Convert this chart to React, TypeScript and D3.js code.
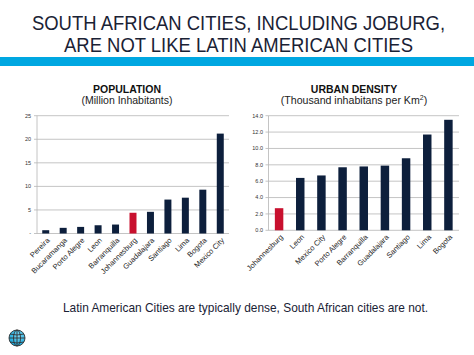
import React from "react";
import * as d3 from "d3";

const popCities = ["Pereira", "Bucaramanga", "Porto Alegre", "Leon", "Barranquilla", "Johannesburg", "Guadalajara", "Santiago", "Lima", "Bogota", "Mexico City"];
const popValues = [0.7, 1.2, 1.4, 1.75, 1.9, 4.4, 4.6, 7.2, 7.6, 9.3, 21.2];
const popTicks = [0, 5, 10, 15, 20, 25];

const denCities = ["Johannesburg", "Leon", "Mexico City", "Porto Alegre", "Barranquilla", "Guadalajara", "Santiago", "Lima", "Bogota"];
const denValues = [2.7, 6.4, 6.7, 7.7, 7.8, 7.9, 8.8, 11.7, 13.5];
const denTicks = [0, 2, 4, 6, 8, 10, 12, 14];

const NAVY = "#0d1f3c";
const RED = "#c8102e";
const FONT = "'Liberation Sans', Arial, Helvetica, sans-serif";

function BarChart({ cities, values, ticks, x0, x1, y0, y1, max, pad, fmt, labelX }: any) {
  const x = d3.scaleBand().domain(cities).range([x0, x1]).paddingInner(pad).paddingOuter(pad / 2);
  const y = d3.scaleLinear().domain([0, max]).range([y0, y1]);
  return (
    <g>
      {ticks.map((t: number) => (
        <g key={t}>
          <line x1={x0} x2={x1} y1={y(t)} y2={y(t)} stroke="#b5b5b5" strokeWidth={0.8} />
          <line x1={x0 - 3} x2={x0} y1={y(t)} y2={y(t)} stroke="#b5b5b5" strokeWidth={0.8} />
          <text x={labelX} y={y(t)} dy="0.33em" textAnchor="end" fontSize={5.5} fill="#333" fontFamily={FONT}>{fmt(t)}</text>
        </g>
      ))}
      <line x1={x0} x2={x0} y1={y(0)} y2={y(max)} stroke="#b5b5b5" strokeWidth={0.8} />
      {cities.map((c: string, i: number) => (
        <rect key={c} x={x(c)} y={y(values[i])} width={x.bandwidth()} height={y(0) - y(values[i])} fill={c === "Johannesburg" ? RED : NAVY} />
      ))}
      {cities.map((c: string) => {
        const cx = (x(c) as number) + x.bandwidth() / 2 + 2.5;
        const cy = y(0) + 5.5;
        return (
          <text key={c} transform={`translate(${cx},${cy}) rotate(-45)`} textAnchor="end" fontSize={7.5} fill="#222" fontFamily={FONT} dy="0.35em">{c}</text>
        );
      })}
    </g>
  );
}

export default function App() {
  return (
    <svg width={474} height={355} style={{ display: "block", position: "absolute", left: 0, top: 0, background: "#fff" }}>
      <g transform="translate(238.5,0) scale(0.9,1)">
        <text x={0} y={30} textAnchor="middle" fontSize={20.5} fill="#1a2235" fontFamily={FONT}>SOUTH AFRICAN CITIES, INCLUDING JOBURG,</text>
        <text x={0} y={52} textAnchor="middle" fontSize={20.5} fill="#1a2235" fontFamily={FONT}>ARE NOT LIKE LATIN AMERICAN CITIES</text>
      </g>
      <rect x={0} y={57} width={474} height={9} fill="#00a7e1" />

      <text x={127} y={93} textAnchor="middle" fontSize={10.5} fontWeight="bold" fill="#111" fontFamily={FONT}>POPULATION</text>
      <text x={127} y={104} textAnchor="middle" fontSize={10.5} fill="#222" fontFamily={FONT}>(Million Inhabitants)</text>
      <text x={354} y={93} textAnchor="middle" fontSize={10.5} fontWeight="bold" fill="#111" fontFamily={FONT}>URBAN DENSITY</text>
      <text x={354} y={104} textAnchor="middle" fontSize={10.6} fill="#222" fontFamily={FONT}>
        (Thousand inhabitans per Km<tspan dy={-4} fontSize={7}>2</tspan><tspan dy={4}>)</tspan>
      </text>

      <BarChart cities={popCities} values={popValues} ticks={popTicks} x0={37} x1={229} y0={233.5} y1={115.7} max={25} pad={0.6}
        fmt={(t: number) => (t === 0 ? "-" : String(t))} labelX={31} />
      <BarChart cities={denCities} values={denValues} ticks={denTicks} x0={268.5} x1={459} y0={230.3} y1={115.7} max={14} pad={0.6}
        fmt={(t: number) => t.toFixed(1)} labelX={263} />

      <g transform="translate(245.5,0) scale(0.976,1)">
        <text x={0} y={312} textAnchor="middle" fontSize={12.2} fill="#1a2235" fontFamily={FONT}>Latin American Cities are typically dense, South African cities are not.</text>
      </g>

      <defs>
        <radialGradient id="globe" cx="0.6" cy="0.35" r="0.7">
          <stop offset="0" stopColor="#7fd8f5" />
          <stop offset="1" stopColor="#0a9fd6" />
        </radialGradient>
      </defs>
      <g transform="translate(17,338)" fill="none" stroke="#333" strokeWidth={0.9}>
        <circle r={8} fill="url(#globe)" />
        <ellipse rx={3.5} ry={8} />
        <line x1={0} x2={0} y1={-8} y2={8} />
        <line x1={-8} x2={8} y1={0} y2={0} />
        <path d="M-7,-4 Q0,-2 7,-4" />
        <path d="M-7,4 Q0,6 7,4" />
      </g>
    </svg>
  );
}
